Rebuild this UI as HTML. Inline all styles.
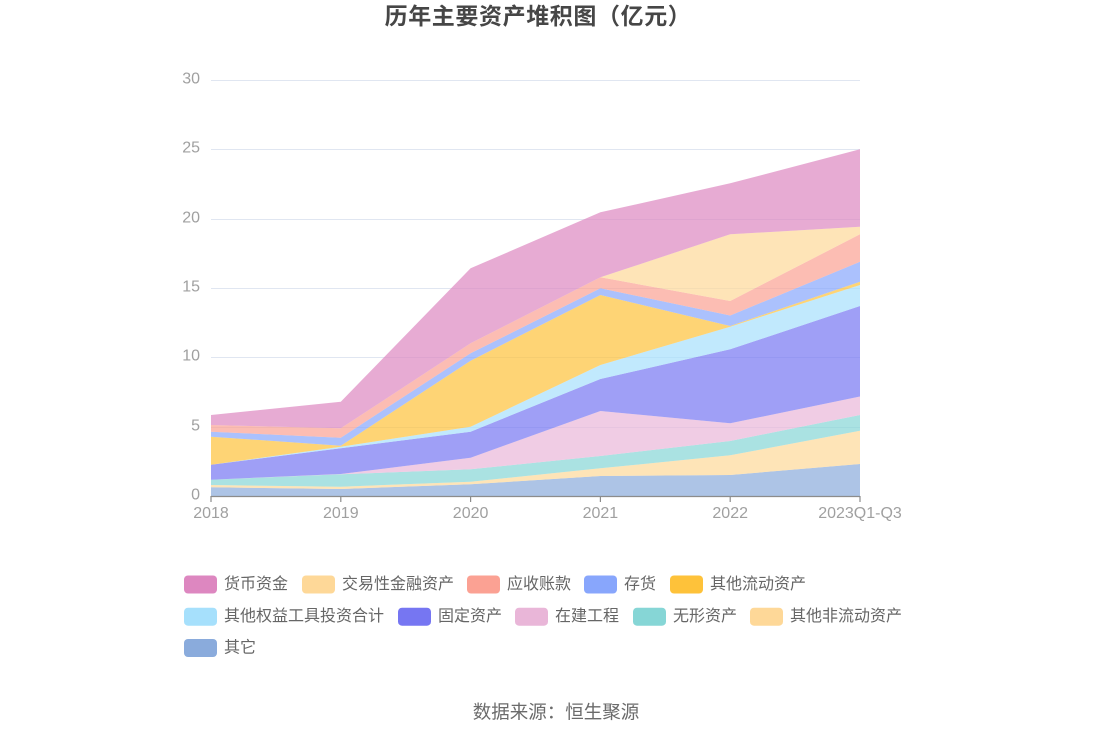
<!DOCTYPE html>
<html>
<head>
<meta charset="utf-8">
<style>
html,body{margin:0;padding:0;background:#fff;}
svg{display:block;}
text{font-family:"Liberation Sans","Noto Sans CJK SC",sans-serif;}
</style>
</head>
<body>
<svg width="1110" height="738" viewBox="0 0 1110 738" xmlns="http://www.w3.org/2000/svg">
<rect width="1110" height="738" fill="#fff"/>
<!-- title -->
<text x="538" y="16" font-size="23" font-weight="bold" fill="#464646" text-anchor="middle" dominant-baseline="central" letter-spacing="0.6">历年主要资产堆积图（亿元）</text>

<!-- grid -->
<g stroke="#e0e6f1" stroke-width="1">
<line x1="211" y1="80.5" x2="860" y2="80.5"/>
<line x1="211" y1="149.5" x2="860" y2="149.5"/>
<line x1="211" y1="219.5" x2="860" y2="219.5"/>
<line x1="211" y1="288.5" x2="860" y2="288.5"/>
<line x1="211" y1="357.5" x2="860" y2="357.5"/>
<line x1="211" y1="427.5" x2="860" y2="427.5"/>
</g>
<g font-size="16" fill="#a0a0a0" text-anchor="end" dominant-baseline="central">
<text x="200" y="79">30</text>
<text x="200" y="148">25</text>
<text x="200" y="218">20</text>
<text x="200" y="287">15</text>
<text x="200" y="356">10</text>
<text x="200" y="426">5</text>
<text x="200" y="495">0</text>
</g>

<!-- areas -->
<g fill-opacity="0.7">
<polygon fill="#8aabdc" points="211,487.3 340.8,489 470.6,484.3 600.4,476 730.2,475 860,464 860,496 730.2,496 600.4,496 470.6,496 340.8,496 211,496"/>
<polygon fill="#fed898" points="211,485 340.8,486.7 470.6,481.7 600.4,468.3 730.2,455.3 860,430.7 860,464 730.2,475 600.4,476 470.6,484.3 340.8,489 211,487.3"/>
<polygon fill="#86d6d6" points="211,479.7 340.8,474.3 470.6,469.3 600.4,456 730.2,441 860,415 860,430.7 730.2,455.3 600.4,468.3 470.6,481.7 340.8,486.7 211,485"/>
<polygon fill="#e9b6d8" points="211,479.7 340.8,474 470.6,457.7 600.4,411 730.2,423.3 860,396.5 860,415 730.2,441 600.4,456 470.6,469.3 340.8,474.3 211,479.7"/>
<polygon fill="#7676f2" points="211,464.7 340.8,448.3 470.6,431.7 600.4,379 730.2,349.3 860,306 860,396.5 730.2,423.3 600.4,411 470.6,457.7 340.8,474 211,479.7"/>
<polygon fill="#a6e0fc" points="211,464.7 340.8,446.7 470.6,426.7 600.4,365 730.2,326.7 860,285 860,306 730.2,349.3 600.4,379 470.6,431.7 340.8,448.3 211,464.7"/>
<polygon fill="#fec23a" points="211,436.7 340.8,445.7 470.6,360.7 600.4,295 730.2,326 860,281.7 860,285 730.2,326.7 600.4,365 470.6,426.7 340.8,446.7 211,464.7"/>
<polygon fill="#88a6fc" points="211,431.7 340.8,437.7 470.6,353.3 600.4,288.3 730.2,315.5 860,261.7 860,281.7 730.2,326 600.4,295 470.6,360.7 340.8,445.7 211,436.7"/>
<polygon fill="#fba193" points="211,425 340.8,428.3 470.6,343.3 600.4,277.3 730.2,301 860,234.3 860,261.7 730.2,315.5 600.4,288.3 470.6,353.3 340.8,437.7 211,431.7"/>
<polygon fill="#fed898" points="211,425 340.8,428.3 470.6,343.3 600.4,277.3 730.2,234.3 860,226.7 860,234.3 730.2,301 600.4,277.3 470.6,343.3 340.8,428.3 211,425"/>
<polygon fill="#dd87c0" points="211,415 340.8,401.7 470.6,268.3 600.4,212.3 730.2,183.3 860,149.3 860,226.7 730.2,234.3 600.4,277.3 470.6,343.3 340.8,428.3 211,425"/>
</g>

<!-- x axis -->
<g stroke="#8c8c8c" stroke-width="1.2">
<line x1="211" y1="496.5" x2="860" y2="496.5"/>
<line x1="211" y1="496" x2="211" y2="502"/>
<line x1="340.8" y1="496" x2="340.8" y2="502"/>
<line x1="470.6" y1="496" x2="470.6" y2="502"/>
<line x1="600.4" y1="496" x2="600.4" y2="502"/>
<line x1="730.2" y1="496" x2="730.2" y2="502"/>
<line x1="860" y1="496" x2="860" y2="502"/>
</g>
<g font-size="16" fill="#a0a0a0" text-anchor="middle">
<text x="211" y="518">2018</text>
<text x="340.8" y="518">2019</text>
<text x="470.6" y="518">2020</text>
<text x="600.4" y="518">2021</text>
<text x="730.2" y="518">2022</text>
<text x="860" y="518">2023Q1-Q3</text>
</g>

<!-- legend -->
<g>
<rect x="184" y="575.5" width="33" height="18" rx="4" fill="#dd87c0"/>
<rect x="302" y="575.5" width="33" height="18" rx="4" fill="#fed898"/>
<rect x="467" y="575.5" width="33" height="18" rx="4" fill="#fba193"/>
<rect x="584" y="575.5" width="33" height="18" rx="4" fill="#88a6fc"/>
<rect x="670" y="575.5" width="33" height="18" rx="4" fill="#fec23a"/>
<rect x="184" y="607.7" width="33" height="18" rx="4" fill="#a6e0fc"/>
<rect x="398" y="607.7" width="33" height="18" rx="4" fill="#7676f2"/>
<rect x="515" y="607.7" width="33" height="18" rx="4" fill="#e9b6d8"/>
<rect x="633" y="607.7" width="33" height="18" rx="4" fill="#86d6d6"/>
<rect x="750" y="607.7" width="33" height="18" rx="4" fill="#fed898"/>
<rect x="184" y="639" width="33" height="18" rx="4" fill="#8aabdc"/>
</g>
<g font-size="16" fill="#666" dominant-baseline="central">
<text x="224" y="584.5">货币资金</text>
<text x="342" y="584.5">交易性金融资产</text>
<text x="507" y="584.5">应收账款</text>
<text x="624" y="584.5">存货</text>
<text x="710" y="584.5">其他流动资产</text>
<text x="224" y="616.7">其他权益工具投资合计</text>
<text x="438" y="616.7">固定资产</text>
<text x="555" y="616.7">在建工程</text>
<text x="673" y="616.7">无形资产</text>
<text x="790" y="616.7">其他非流动资产</text>
<text x="224" y="648">其它</text>
</g>

<!-- source -->
<text x="556" y="712" font-size="18.5" fill="#6b6b6b" text-anchor="middle" dominant-baseline="central">数据来源：恒生聚源</text>
</svg>
</body>
</html>
